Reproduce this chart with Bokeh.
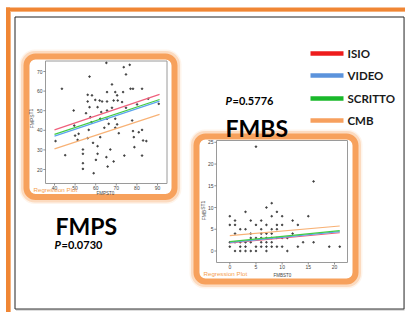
from bokeh.plotting import figure
from bokeh.models import Range1d, BoxAnnotation
from bokeh.embed import file_html
from bokeh.resources import INLINE
from bokeh.core.properties import value

W, H = 405, 312

# ---------------- data ----------------
groups = ["ISIO", "VIDEO", "SCRITTO", "CMB"]
legend_colors = ["#ee1c1c", "#5b93dc", "#19b82a", "#f7a05e"]
plot_line_colors = ["#f0607c", "#5aa4ee", "#44cc44", "#f8b276"]

fmps_t0 = [65.2, 76.5, 73.6, 74.7, 57.0, 43.6, 67.9, 65.5, 69.5, 70.4, 73.3, 76.9, 78.1, 82.5,
           58.2, 56.1, 59.8, 61.9, 63.1, 65.5, 68.7, 70.7, 72.8, 85.5, 90.6, 49.3, 60.9, 62.7,
           65.5, 67.9, 74.7, 80.1, 57.4, 57.9, 62.2, 65.5, 66.3, 69.5, 70.4, 77.7, 49.6, 64.2,
           69.5, 56.6, 82.5, 78.1, 80.9, 50.0, 51.7, 56.1, 62.2, 71.2, 40.5, 51.2, 83.0, 84.6,
           78.5, 58.7, 53.8, 60.9, 67.1, 78.8, 45.2, 53.8, 60.9, 73.9, 82.5, 65.2, 60.1, 68.7,
           53.8, 65.8, 53.8, 59.0, 56.1, 57.0, 55.3]
fmps_t1 = [74.4, 73.4, 72.2, 68.5, 67.4, 61.2, 63.4, 59.5, 59.5, 57.8, 59.5, 61.2, 61.2, 61.2,
           57.8, 54.7, 55.5, 55.2, 54.7, 54.7, 55.2, 55.2, 54.4, 56.1, 53.5, 50.1, 51.8, 49.3,
           50.1, 51.5, 51.5, 53.2, 46.7, 44.1, 45.9, 45.9, 43.3, 45.9, 43.0, 45.0, 42.4, 41.3,
           41.3, 40.2, 40.2, 39.6, 39.0, 37.3, 38.2, 36.0, 36.5, 38.5, 34.5, 35.1, 34.8, 34.5,
           36.5, 33.6, 30.2, 31.9, 30.2, 31.4, 27.3, 28.0, 28.0, 27.1, 27.1, 26.3, 24.9, 24.1,
           23.2, 21.5, 20.3, 18.1, 58.1, 51.8, 48.7]

fmbs_t0 = [5, 16, 8, 7, 3, 9, 0, 8, 10, 15, 1, 4, 6, 12, 0, 1, 5, 7, 9, 10, 13, 2, 3, 6, 8, 9,
           1, 4, 6, 7, 8, 12, 4, 5, 6, 7, 8, 9, 10, 11, 1, 2, 3, 4, 6, 7, 8, 14, 16, 0, 0, 2, 3,
           5, 6, 7, 8, 9, 10, 13, 19, 21, 1, 2, 3, 4, 5, 7, 11]
fmbs_t1 = [24, 16, 11, 10, 9, 9, 8, 8, 8, 8, 7, 7, 7, 7, 6, 6, 6, 6, 6, 6, 6, 5, 5, 5, 5, 5,
           4, 4, 4, 4, 4, 4, 3, 3, 3, 3, 3, 3, 3, 3, 2, 2, 2, 2, 2, 2, 2, 2, 2, 2, 1, 1, 1,
           1, 1, 1, 1, 1, 1, 1, 1, 1, 0, 0, 0, 0, 0, 0, 0]

fmps_line_x = [40, 91]
fmps_line_y = [[40.2, 58.3], [37.0, 54.9], [37.9, 55.7], [30.5, 48.1]]
fmbs_line_x = [0, 21]
fmbs_line_y = [[1.84, 4.2], [2.0, 4.45], [2.15, 4.68], [3.53, 5.75]]

fmps_xticks = [40, 50, 60, 70, 80, 90]
fmps_yticks = [20, 30, 40, 50, 60, 70]
fmbs_xticks = [0, 5, 10, 15, 20]
fmbs_yticks = [0, 5, 10, 15, 20, 25]

p_fmps = "0.0730"
p_fmbs = "0.5776"

# ---------------- layout helpers (page pixels, y from top) ----------------
def X(rx):
    return rx


def Y(ry):
    return H - ry


def lin_range(v0, p0, v1, p1, size):
    k = (v1 - v0) / (p1 - p0)
    return Range1d(start=v0 - p0 * k, end=v0 + (size - p0) * k)


p = figure(width=W, height=H, x_range=Range1d(0, W), y_range=Range1d(0, H),
           output_backend="svg", toolbar_location=None, min_border=0)
p.axis.visible = False
p.grid.visible = False
p.outline_line_color = None
p.background_fill_color = "white"
p.border_fill_color = "white"

p.extra_x_ranges = {
    "x1": lin_range(40, X(54), 90, X(157), W),
    "x2": lin_range(0, X(229.3), 20, X(334), W),
}
p.extra_y_ranges = {
    "y1": lin_range(20, Y(169), 70, Y(71), H),
    "y2": lin_range(0, Y(250.5), 25, Y(141.8), H),
}

# outer orange edge
p.quad(left=[X(5.5)], right=[X(9.5)], bottom=[0], top=[Y(7)], fill_color="#f08634", line_color=None)
p.quad(left=[X(5.5)], right=[W], bottom=[Y(10.5)], top=[Y(7)], fill_color="#f08634", line_color=None)
p.quad(left=[X(9.5)], right=[X(10.5)], bottom=[0], top=[Y(10.5)], fill_color="#f6b27c", line_color=None)
p.quad(left=[X(9.5)], right=[W], bottom=[Y(11.5)], top=[Y(10.5)], fill_color="#f6b27c", line_color=None)

# black frame with slight shadow
p.segment(x0=[X(15.5)], y0=[Y(309.5)], x1=[X(404)], y1=[Y(309.5)], line_color="#bbb", line_width=1)
p.segment(x0=[X(404.5)], y0=[Y(17)], x1=[X(404.5)], y1=[Y(309.5)], line_color="#bbb", line_width=1)
p.segment(x0=[X(14.5)], y0=[Y(16.5)], x1=[X(14.5)], y1=[Y(308.5)], line_color="#222", line_width=1)
p.segment(x0=[X(14.5)], y0=[Y(16.5)], x1=[X(403.5)], y1=[Y(16.5)], line_color="#222", line_width=1)
p.segment(x0=[X(403.5)], y0=[Y(16.5)], x1=[X(403.5)], y1=[Y(308.5)], line_color="#333", line_width=1)
p.segment(x0=[X(14.5)], y0=[Y(308.5)], x1=[X(403.5)], y1=[Y(308.5)], line_color="#333", line_width=1)

# glowing orange boxes: solid band plus an outward soft glow
def glow_box(l, r, t, b):
    for grow, lw, a in [(4.5, 5, 0.12), (2.5, 6, 0.3), (0, 6, 1.0)]:
        p.add_layout(BoxAnnotation(left=X(l - grow), right=X(r + grow), top=Y(t - grow),
                                   bottom=Y(b + grow), fill_color=None, line_color="#f7a15c",
                                   line_width=lw, line_alpha=a, border_radius=int(9 + grow),
                                   level="underlay"))

glow_box(26, 174, 56, 196.5)
glow_box(196, 355, 136, 281)

tick_font = value("Liberation Sans")

# ---------- FMPS plot ----------
fl, fr, ft, fb = 45, 166.5, 60.5, 183
p.quad(left=[X(fl)], right=[X(fr)], top=[Y(ft)], bottom=[Y(fb)], fill_color="white",
       line_color="#9a9a9a", line_width=1)
p.segment(x0=fmps_xticks, x1=fmps_xticks, y0=[Y(fb)] * len(fmps_xticks),
          y1=[Y(fb + 2)] * len(fmps_xticks), x_range_name="x1", line_color="#777", line_width=0.8)
p.text(x=fmps_xticks, y=[Y(fb + 2.3)] * len(fmps_xticks), text=[str(t) for t in fmps_xticks],
       x_range_name="x1", text_align="center", text_baseline="top", text_font=tick_font,
       text_font_size="5px", text_color="#444")
p.segment(x0=[X(fl - 2.2)] * len(fmps_yticks), x1=[X(fl)] * len(fmps_yticks), y0=fmps_yticks,
          y1=fmps_yticks, y_range_name="y1", line_color="#777", line_width=0.8)
p.text(x=[X(fl - 3)] * len(fmps_yticks), y=fmps_yticks, text=[str(t) for t in fmps_yticks],
       y_range_name="y1", text_align="right", text_baseline="middle", text_font=tick_font,
       text_font_size="5px", text_color="#444")
p.scatter(fmps_t0, fmps_t1, size=1.6, color="#333", alpha=0.85, x_range_name="x1", y_range_name="y1")
for ys, c in zip(fmps_line_y, plot_line_colors):
    p.line(fmps_line_x, ys, line_color=c, line_width=1.2, x_range_name="x1", y_range_name="y1")
p.text(x=[X(105)], y=[Y(192.5)], text=["FMPST0"], text_align="center", text_baseline="middle",
       text_font=tick_font, text_font_size="4.5px", text_color="#444")
p.text(x=[X(31)], y=[Y(118)], text=["FMPST1"], angle=1.5708, text_align="center",
       text_baseline="middle", text_font=tick_font, text_font_size="5px", text_color="#444")
p.text(x=[X(33)], y=[Y(189.3)], text=["Regression Plot"], text_align="left", text_baseline="middle",
       text_font=tick_font, text_font_size="6.2px", text_color="#f5a04e")

# ---------- FMBS plot ----------
gl, gr, gt, gb = 216, 347, 140, 262
p.quad(left=[X(gl)], right=[X(gr)], top=[Y(gt)], bottom=[Y(gb)], fill_color="white",
       line_color="#9a9a9a", line_width=1)
p.segment(x0=fmbs_xticks, x1=fmbs_xticks, y0=[Y(gb)] * len(fmbs_xticks),
          y1=[Y(gb + 2)] * len(fmbs_xticks), x_range_name="x2", line_color="#777", line_width=0.8)
p.text(x=fmbs_xticks, y=[Y(gb + 2.8)] * len(fmbs_xticks), text=[str(t) for t in fmbs_xticks],
       x_range_name="x2", text_align="center", text_baseline="top", text_font=tick_font,
       text_font_size="5px", text_color="#444")
p.segment(x0=[X(gl - 2.2)] * len(fmbs_yticks), x1=[X(gl)] * len(fmbs_yticks), y0=fmbs_yticks,
          y1=fmbs_yticks, y_range_name="y2", line_color="#777", line_width=0.8)
p.text(x=[X(gl - 3)] * len(fmbs_yticks), y=fmbs_yticks, text=[str(t) for t in fmbs_yticks],
       y_range_name="y2", text_align="right", text_baseline="middle", text_font=tick_font,
       text_font_size="5px", text_color="#444")
p.scatter(fmbs_t0, fmbs_t1, size=1.6, color="#333", alpha=0.85, x_range_name="x2", y_range_name="y2")
for ys, c in zip(fmbs_line_y, plot_line_colors):
    p.line(fmbs_line_x, ys, line_color=c, line_width=1.2, x_range_name="x2", y_range_name="y2")
p.text(x=[X(282)], y=[Y(275)], text=["FMBST0"], text_align="center", text_baseline="middle",
       text_font=tick_font, text_font_size="4.5px", text_color="#444")
p.text(x=[X(203)], y=[Y(210)], text=["FMBST1"], angle=1.5708, text_align="center",
       text_baseline="middle", text_font=tick_font, text_font_size="5px", text_color="#444")
p.text(x=[X(203)], y=[Y(273)], text=["Regression Plot"], text_align="left", text_baseline="middle",
       text_font=tick_font, text_font_size="6.2px", text_color="#f5a04e")

# ---------- titles & p-values ----------
title_font = value("Lato")
p.text(x=[X(225)], y=[Y(127)], text=["FMBS"], text_font=title_font, text_font_style="bold",
       text_font_size="23px", text_color="black", text_baseline="alphabetic")
p.text(x=[X(55)], y=[Y(225)], text=["FMPS"], text_font=title_font, text_font_style="bold",
       text_font_size="23px", text_color="black", text_baseline="alphabetic")

for px, py, pv in [(225, 100, p_fmbs), (54, 244, p_fmps)]:
    p.text(x=[X(px)], y=[Y(py)], text=["P"], text_font=title_font, text_font_style="bold italic",
           text_font_size="11px", text_color="black", text_baseline="alphabetic")
    p.text(x=[X(px + 7)], y=[Y(py)], text=["=" + pv], text_font=title_font, text_font_style="bold",
           text_font_size="11px", text_color="black", text_baseline="alphabetic")

# ---------- legend ----------
leg_y = [53, 75, 98, 120]
for g, c, ly in zip(groups, legend_colors, leg_y):
    p.segment(x0=[X(310)], x1=[X(343)], y0=[Y(ly)], y1=[Y(ly)], line_color=c, line_width=4.5)
    p.text(x=[X(347)], y=[Y(ly)], text=[g], text_font=title_font, text_font_style="bold",
           text_font_size="11.5px", text_color="#1a1a1a", text_baseline="middle")

open("out.html", "w").write(file_html(p, INLINE))
